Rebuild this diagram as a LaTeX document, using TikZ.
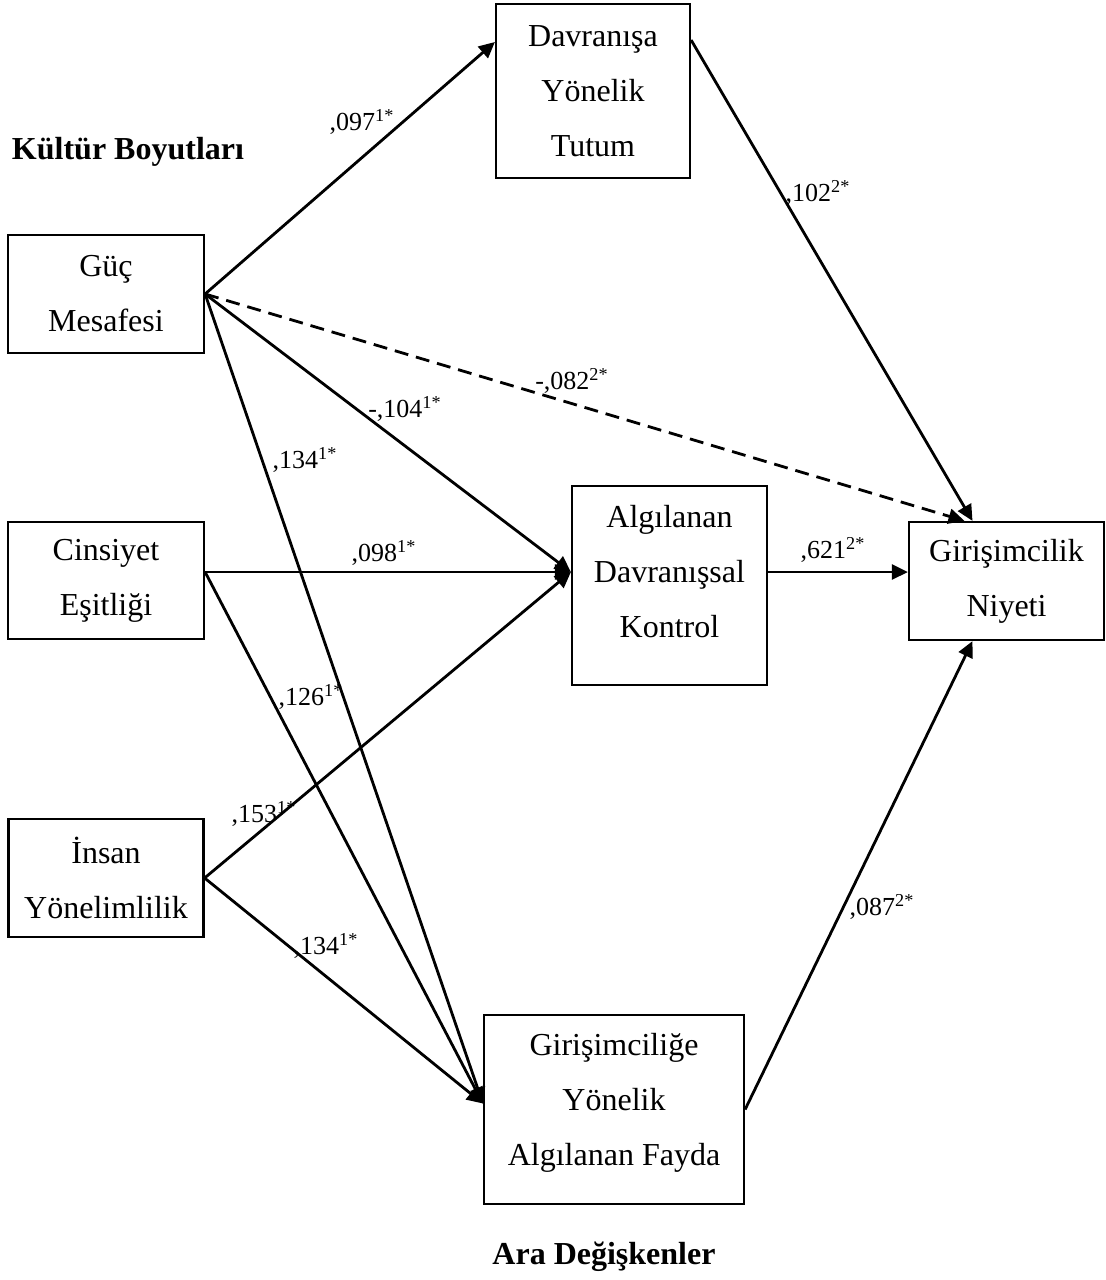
\documentclass[tikz,border=0pt]{standalone}
\usepackage{fontspec}
\setmainfont{Liberation Serif}
\usetikzlibrary{arrows.meta}

\begin{document}
\begin{tikzpicture}[x=0.5pt, y=-0.5pt,
        kutu/.style={draw, line width=1.1pt, align=center, inner sep=0pt, font=\fontsize{16}{27.5}\selectfont},
        yazi/.style={align=center, inner sep=0pt, font=\fontsize{16}{27.5}\selectfont},
        yol/.style={line width=1.4pt, -{Triangle[length=8pt,width=7.5pt]}},
        kesik/.style={dash pattern=on 7pt off 4pt},
        katsayi/.style={inner sep=0pt, font=\fontsize{13}{13}\selectfont},
        baslik/.style={inner sep=0pt, font=\fontsize{16}{16}\selectfont\bfseries}]
    \useasboundingbox (0,0) rectangle (1105,1280);

    \node[baslik] (kb) at (128,152) {Kültür Boyutları};
    \node[baslik] (ad) at (604,1257) {Ara Değişkenler};

    \node[kutu, minimum width=98pt, minimum height=59pt] (gm) at (106,294) {Güç\\Mesafesi};
    \node[kutu, minimum width=98pt, minimum height=58.5pt] (ce) at (106,580.5) {Cinsiyet\\Eşitliği};
    \node[kutu, minimum width=97.5pt, minimum height=59pt] (iy) at (106,878) {İnsan\\Yönelimlilik};
    \node[kutu, minimum width=97pt, minimum height=87pt] (dyt) at (593,91) {Davranışa\\Yönelik\\Tutum};
    \node[kutu, minimum width=97.5pt, minimum height=99.5pt] (adk) at (669.5,585.5) {};
    \node[yazi] (adkyazi) at (669.5,572) {Algılanan\\Davranışsal\\Kontrol};
    \node[kutu, minimum width=97.5pt, minimum height=59pt] (gn) at (1006.5,581) {Girişimcilik\\Niyeti};
    \node[kutu, minimum width=130pt, minimum height=94.5pt] (gyaf) at (614,1109.5) {};
    \node[yazi] (gyafyazi) at (614,1103) {Girişimciliğe\\Yönelik\\Algılanan Fayda};

    \coordinate (adkin) at ([yshift=6.75pt]adk.west);
    \coordinate (gyafin) at ([yshift=3pt]gyaf.west);
    \coordinate (gnust) at ([xshift=-17pt]gn.north);
    \coordinate (gnalt) at ([xshift=-17pt]gn.south);

    \draw[yol] (gm.east) -- ([yshift=24.5pt]dyt.west);
    \draw[yol] ([yshift=25.5pt]dyt.east) -- (gnust);
    \draw[yol, kesik] (gm.east) -- ([xshift=-4pt]gnust);
    \draw[yol] (gm.east) -- (adkin);
    \draw[yol] (gm.east) -- (gyafin);
    \draw[yol] (ce.east |- adkin) -- (adkin);
    \draw[yol] (ce.east |- adkin) -- (gyafin);
    \draw[yol] (iy.east) -- (adkin);
    \draw[yol] (iy.east) -- (gyafin);
    \draw[yol] (adk.east |- adkin) -- (gn.west |- adkin);
    \draw[yol] (gyaf.east) -- (gnalt);

    \node[katsayi] (k097) at (362,122) {,097\textsuperscript{1*}};
    \node[katsayi] (k102) at (818,193) {,102\textsuperscript{2*}};
    \node[katsayi] (k082) at (572,381) {-,082\textsuperscript{2*}};
    \node[katsayi] (k104) at (405,409) {-,104\textsuperscript{1*}};
    \node[katsayi] (k134a) at (305,460) {,134\textsuperscript{1*}};
    \node[katsayi] (k098) at (384,553) {,098\textsuperscript{1*}};
    \node[katsayi] (k621) at (833,550) {,621\textsuperscript{2*}};
    \node[katsayi] (k126) at (311,697) {,126\textsuperscript{1*}};
    \node[katsayi] (k153) at (264,814) {,153\textsuperscript{1*}};
    \node[katsayi] (k134b) at (326,946) {,134\textsuperscript{1*}};
    \node[katsayi] (k087) at (882,907) {,087\textsuperscript{2*}};
\end{tikzpicture}
\end{document}
